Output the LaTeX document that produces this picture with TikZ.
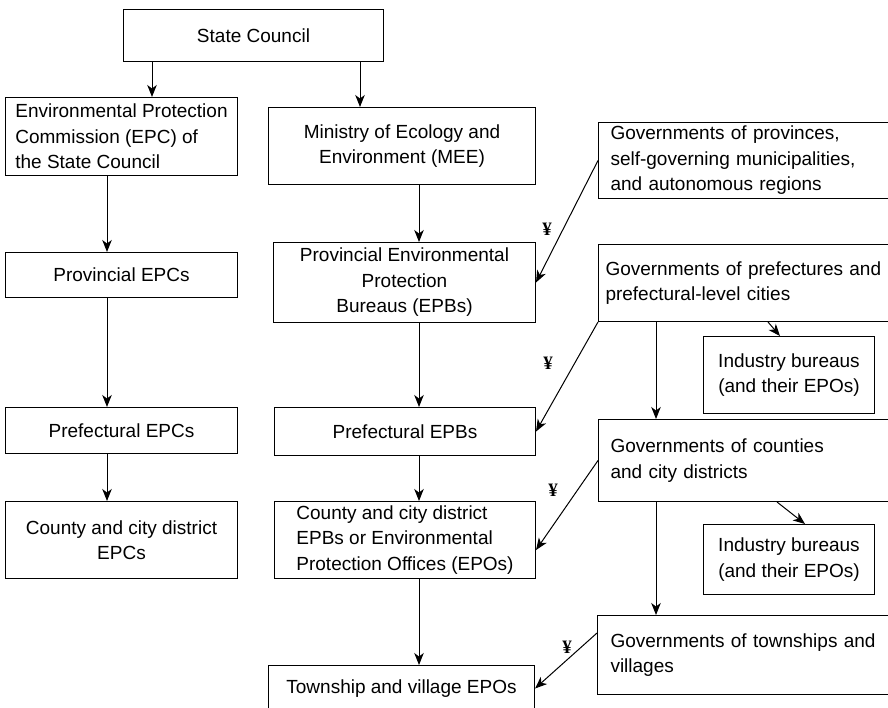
\documentclass[tikz,border=0pt]{standalone}
\usepackage{fontspec}
\setmainfont{Liberation Sans}
\newfontfamily\yenfont{Liberation Serif}
\usetikzlibrary{arrows.meta}
\begin{document}
\begin{tikzpicture}[x=1pt,y=-1pt,
  box/.style={draw, line width=1pt, inner sep=0pt, anchor=north west, font=\fontsize{19}{25.5}\selectfont},
  arr/.style={line width=1pt, -{Stealth[length=12pt,width=9.5pt,inset=3.5pt]}},
  yen/.style={font=\yenfont\bfseries\fontsize{19}{19}\selectfont, inner sep=0pt}]
\useasboundingbox (0,0) rectangle (888,707);
\clip (0,0) rectangle (888,707);

% left and middle columns
\node[box, minimum width=260pt, minimum height=52pt] (sc) at (123,9) {State Council};
\node[box, align=left, minimum width=232pt, minimum height=78pt] (epc) at (5,97) {Environmental Protection\\Commission (EPC) of\\the State Council};
\node[box, minimum width=232pt, minimum height=45pt] (pepc) at (5,252) {Provincial EPCs};
\node[box, minimum width=232pt, minimum height=46pt] (fepc) at (5,407) {Prefectural EPCs};
\node[box, align=center, minimum width=232pt, minimum height=77pt] (cepc) at (5,501) {County and city district\\EPCs};
\node[box, align=center, minimum width=267pt, minimum height=77pt] (mee) at (268,107) {Ministry of Ecology and\\Environment (MEE)};
\node[box, align=center, minimum width=262pt, minimum height=80pt] (pepb) at (273,242) {Provincial Environmental\\Protection\\Bureaus (EPBs)};
\node[box, minimum width=261pt, minimum height=48pt] (fepb) at (274,407) {Prefectural EPBs};
\node[box, align=left, minimum width=261pt, minimum height=77pt] (cepb) at (274,501) {County and city district\\EPBs or Environmental\\Protection Offices (EPOs)};
\node[box, minimum width=266pt, minimum height=46pt] (tepo) at (268,665) {Township and village EPOs};

% right column
\node[box, align=left, inner xsep=12pt, text width=290pt, minimum height=76pt] (gprov) at (598,122) {Governments of provinces,\\self-governing municipalities,\\and autonomous regions};
\node[box, align=left, inner xsep=7pt, text width=300pt, minimum height=77pt] (gpref) at (598,244) {Governments of prefectures and\\prefectural-level cities};
\node[box, align=center, minimum width=171pt, minimum height=77pt] (ind1) at (703,336) {Industry bureaus\\(and their EPOs)};
\node[box, align=left, inner xsep=12pt, text width=290pt, minimum height=82pt] (gcty) at (598,419) {Governments of counties\\and city districts};
\node[box, align=center, minimum width=171pt, minimum height=70pt] (ind2) at (703,524) {Industry bureaus\\(and their EPOs)};
\node[box, align=left, inner xsep=13pt, text width=289pt, minimum height=79pt] (gtwn) at (597,615) {Governments of townships and\\villages};

% column guides
\coordinate (cA) at (152,0);
\coordinate (cB) at (360,0);
\coordinate (cL) at (107,0);
\coordinate (cM) at (419,0);
\coordinate (cR) at (656,0);

% vertical arrows
\draw[arr] (sc.south -| cA) -- (epc.north -| cA);
\draw[arr] (sc.south -| cB) -- (mee.north -| cB);
\draw[arr] (epc.south -| cL) -- (pepc.north -| cL);
\draw[arr] (pepc.south -| cL) -- (fepc.north -| cL);
\draw[arr] (fepc.south -| cL) -- (cepc.north -| cL);
\draw[arr] (mee.south -| cM) -- (pepb.north -| cM);
\draw[arr] (pepb.south -| cM) -- (fepb.north -| cM);
\draw[arr] (fepb.south -| cM) -- (cepb.north -| cM);
\draw[arr] (cepb.south -| cM) -- (tepo.north -| cM);
\draw[arr] (gpref.south -| cR) -- (gcty.north -| cR);
\draw[arr] (gcty.south -| cR) -- (gtwn.north -| cR);

% funding arrows
\draw[arr] (gprov.west) -- (pepb.east);
\draw[arr] (gpref.south west) -- (fepb.east);
\draw[arr] (gcty.west) -- ([yshift=-10pt]cepb.east);
\draw[arr] ([yshift=22pt]gtwn.west) -- (tepo.east);

% industry arrows
\draw[arr] ([xshift=170pt]gpref.south west) -- ([xshift=77pt]ind1.north west);
\draw[arr] ([xshift=179pt]gcty.south west) -- ([xshift=102pt]ind2.north west);

% yen labels
\node[yen] (y1) at (547,229) {¥};
\node[yen] (y2) at (548,363) {¥};
\node[yen] (y3) at (553,490) {¥};
\node[yen] (y4) at (567,647) {¥};
\end{tikzpicture}
\end{document}
